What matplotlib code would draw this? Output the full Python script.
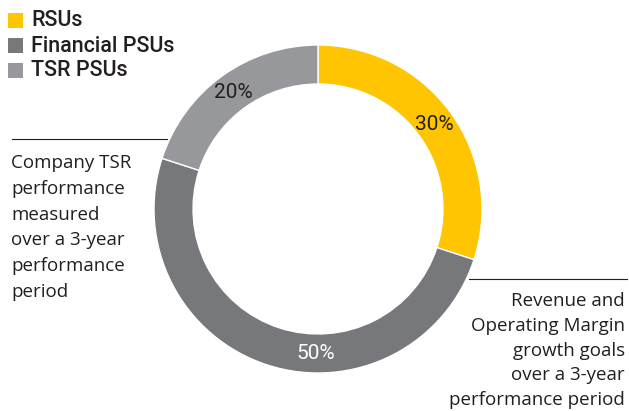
import numpy as np
import matplotlib.pyplot as plt
from matplotlib.patches import Rectangle

# award mix
labels = ['RSUs', 'Financial PSUs', 'TSR PSUs']
shares = [30, 50, 20]
colors = ['#FFC500', '#77787B', '#97989B']
pct_colors = ['#231F20', '#FFFFFF', '#231F20']

left_note = ['Company TSR', 'performance', 'measured', 'over a 3-year',
             'performance', 'period']
right_note = ['Revenue and', 'Operating Margin', 'growth goals',
              'over a 3-year', 'performance period']

W, H = 629, 411
DARK = '#231F20'

fig = plt.figure(figsize=(W / 100, H / 100), dpi=100)

# donut: centre (318, 209) px, outer radius 164 px
cx, cy, R = 318, 209, 164
ax = fig.add_axes([(cx - R) / W, (H - cy - R) / H, 2 * R / W, 2 * R / H])
ax.pie(shares, colors=colors, startangle=90, counterclock=False,
       wedgeprops=dict(width=0.238, edgecolor='white', linewidth=1))
ax.set_xlim(-1, 1)
ax.set_ylim(-1, 1)
ax.set_aspect('equal')

# percentage labels sit in the middle of the ring
r_lab = 0.88
cum = 0
for name, v, c in zip(labels, shares, pct_colors):
    mid = 90 - 360 * (cum + v / 2) / 100
    if name == 'Financial PSUs':
        mid = -91  # big slice gets its label at the bottom
    cum += v
    a = np.radians(mid)
    ax.text(r_lab * np.cos(a), r_lab * np.sin(a), f'{v}%', color=c,
            ha='center', va='center', fontsize=15, family='Roboto')

# overlay in pixel coords for legend and notes
ov = fig.add_axes([0, 0, 1, 1], facecolor='none')
ov.set_xlim(0, W)
ov.set_ylim(H, 0)
ov.axis('off')

for i, (name, c) in enumerate(zip(labels, colors)):
    y = 20.5 + 25 * i
    ov.add_patch(Rectangle((8, y - 7.5), 15, 15, color=c, lw=0))
    ov.text(31, y + 0.5, name, ha='left', va='center', fontsize=15.5,
            family='Roboto', weight='medium', color=DARK)

note_font = dict(family='Open Sans', fontsize=13.5, color=DARK)

ov.plot([12, 167], [139, 139], color=DARK, lw=0.8)
for i, line in enumerate(left_note):
    ov.text(11, 168 + 25.8 * i, line, ha='left', va='baseline', **note_font)

ov.plot([469, 627], [279, 279], color=DARK, lw=0.8)
for i, line in enumerate(right_note):
    ov.text(625, 306 + 24.8 * i, line, ha='right', va='baseline', **note_font)

fig.savefig('out.png', dpi=100)
